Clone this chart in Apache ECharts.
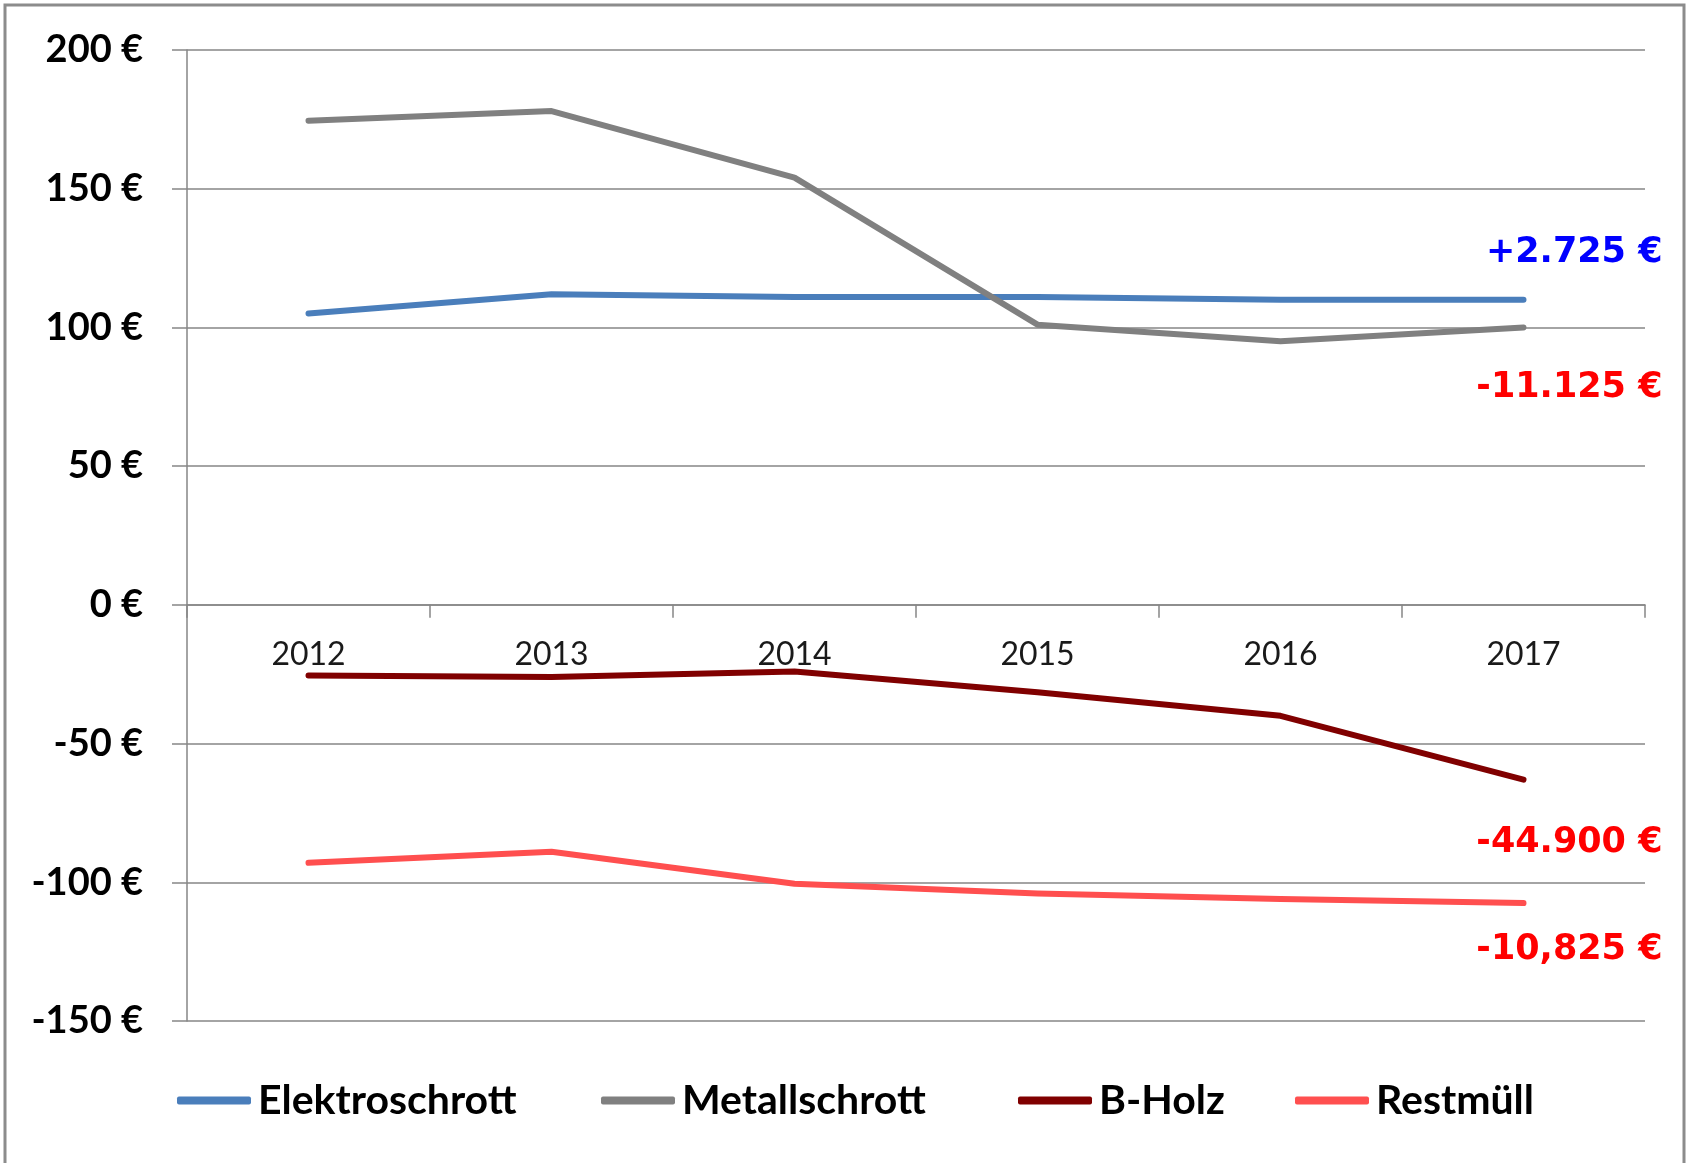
<!DOCTYPE html>
<html>
<head>
<meta charset="utf-8">
<title>Entsorgungskosten</title>
<script src="https://cdn.jsdelivr.net/npm/echarts@6/dist/echarts.min.js"></script>
<style>
  html, body { margin: 0; padding: 0; background: #fff; }
  #chart { width: 1689px; height: 1163px; }
</style>
</head>
<body>
<div id="chart"></div>
<script>
// Jahre
const years = ['2012', '2013', '2014', '2015', '2016', '2017'];

// Werte je Fraktion
const elektroschrott = [105, 112, 111, 111, 110, 110];
const metallschrott = [174.5, 178, 154, 101, 95, 100];
const bHolz = [-25.5, -26, -24, -31.5, -40, -63];
const restmuell = [-93, -89, -100.5, -104, -106, -107.5];

// Summen am rechten Rand
const sumLabels = ['+2.725 €', '-11.125 €', '-44.900 €', '-10,825 €'];
const sumColors = ['#0000ff', '#ff0000', '#ff0000', '#ff0000'];

const chart = echarts.init(document.getElementById('chart'));

const makeSeries = (name, data, color, idx, dy) => ({
  name: name,
  type: 'line',
  data: data,
  symbol: 'none',
  showSymbol: false,
  lineStyle: { color: color, width: 6, cap: 'round', join: 'round' },
  itemStyle: { color: color },
  endLabel: {
    show: true,
    formatter: sumLabels[idx],
    color: sumColors[idx],
    fontFamily: "'DejaVu Sans', sans-serif",
    fontWeight: 'bold',
    fontSize: 35,
    align: 'right',
    verticalAlign: 'middle',
    offset: [131, dy],
  },
});

const legendItem = (name, left) => ({
  data: [name],
  left: left,
  top: 1075,
  itemWidth: 74,
  itemHeight: 8,
  itemGap: 0,
  icon: 'roundRect',
  textStyle: {
    fontFamily: 'Lato, sans-serif',
    fontWeight: 'bold',
    fontSize: 41,
    color: '#000',
    padding: [0, 0, 0, 2],
  },
});

chart.setOption({
  animation: false,
  backgroundColor: '#fff',
  graphic: [
    {
      type: 'rect',
      shape: { x: 5, y: 5, width: 1679, height: 1170 },
      style: { fill: 'none', stroke: '#8c8c8c', lineWidth: 3 },
      silent: true,
    },
  ],
  grid: {
    left: 187,
    right: 44,
    top: 50,
    bottom: 142,
  },
  legend: [
    legendItem('Elektroschrott', 172),
    legendItem('Metallschrott', 596),
    legendItem('B-Holz', 1013),
    legendItem('Restmüll', 1290),
  ],
  xAxis: {
    type: 'category',
    data: years,
    boundaryGap: true,
    axisLine: { onZero: true, lineStyle: { color: '#868686', width: 1.5 } },
    axisTick: { show: true, length: 13, lineStyle: { color: '#868686', width: 1.5 } },
    axisLabel: {
      fontFamily: 'Lato, sans-serif',
      fontSize: 32,
      color: '#1a1a1a',
      // Beschriftung direkt unter der Nulllinie
      margin: -382,
    },
  },
  yAxis: {
    type: 'value',
    min: -150,
    max: 200,
    interval: 50,
    axisLine: { show: true, lineStyle: { color: '#868686', width: 1.5 } },
    axisTick: { show: true, length: 15, lineStyle: { color: '#868686', width: 1.5 } },
    splitLine: { lineStyle: { color: '#868686', width: 1.5 } },
    axisLabel: {
      fontFamily: 'Lato, sans-serif',
      fontWeight: 'bold',
      fontSize: 38,
      color: '#000',
      margin: 44,
      formatter: (v) => v + ' €',
    },
  },
  series: [
    makeSeries('Elektroschrott', elektroschrott, '#4a7ebb', 0, -47),
    makeSeries('Metallschrott', metallschrott, '#808080', 1, 60),
    makeSeries('B-Holz', bHolz, '#800000', 2, 63),
    makeSeries('Restmüll', restmuell, '#ff4f4f', 3, 47),
  ],
});
</script>
</body>
</html>
